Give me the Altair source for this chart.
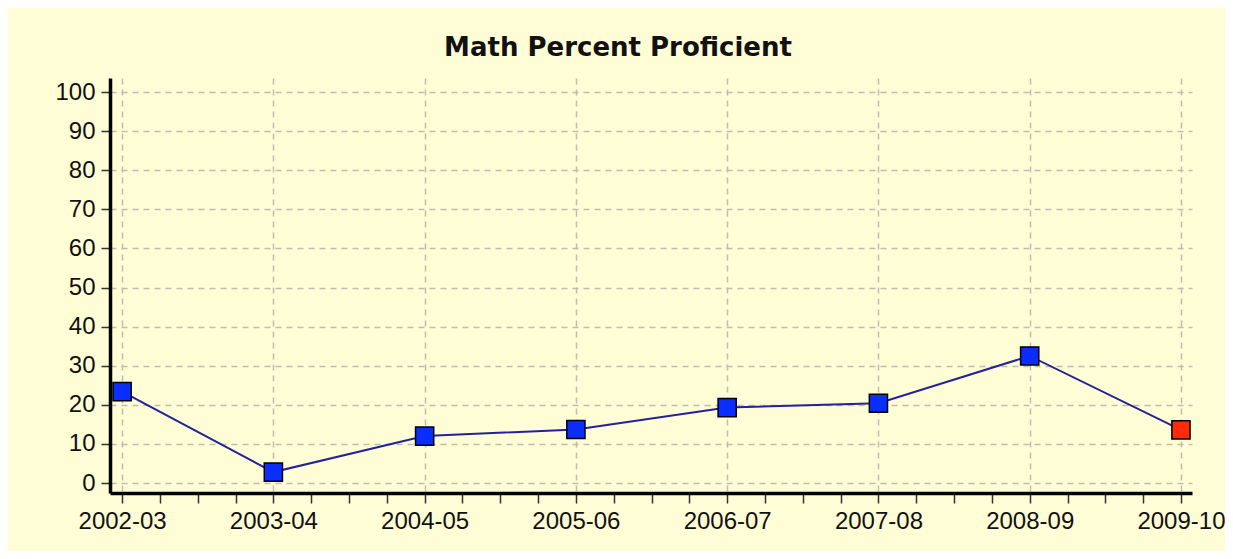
import altair as alt
import pandas as pd

seasons = ["2002-03", "2003-04", "2004-05", "2005-06", "2006-07", "2007-08", "2008-09", "2009-10"]
values = [23.4, 2.8, 12.0, 13.7, 19.3, 20.4, 32.5, 13.6]
status = ["past", "past", "past", "past", "past", "past", "past", "current"]

df = pd.DataFrame({"idx": list(range(len(seasons))), "season": seasons,
                   "value": values, "status": status})

label_arr = "[" + ",".join("'%s'" % s for s in seasons) + "]"
x_ticks = [i / 4 for i in range(4 * (len(seasons) - 1) + 1)]

FONT = "Liberation Sans"

x_enc = alt.X(
    "idx:Q",
    scale=alt.Scale(domain=[-0.08, 7.073], nice=False, zero=False),
    axis=alt.Axis(
        title=None,
        values=x_ticks,
        labelExpr="datum.value % 1 === 0 ? " + label_arr + "[datum.value] : ''",
        labelFont=FONT, labelFontSize=24, labelColor="#111111",
        labelPadding=6, labelFlush=False, labelOverlap=False,
        domainColor="#000000", domainWidth=3.5,
        tickColor="#333333", tickWidth=1.5, tickSize=10,
        grid=True, gridColor="#BEBEAE", gridWidth=1.5, gridDash=[6, 5],
        gridOpacity={"condition": {"test": "datum.value % 1 === 0", "value": 1}, "value": 0},
    ),
)
y_enc = alt.Y(
    "value:Q",
    scale=alt.Scale(domain=[-2.55, 103.6], nice=False, zero=False),
    axis=alt.Axis(
        title=None,
        values=list(range(0, 101, 10)),
        labelFont=FONT, labelFontSize=24, labelColor="#111111",
        labelPadding=6,
        domainColor="#000000", domainWidth=3.5,
        tickColor="#333333", tickWidth=1.5, tickSize=9,
        grid=True, gridColor="#BEBEAE", gridWidth=1.5, gridDash=[6, 5],
    ),
)

line = alt.Chart(df).mark_line(color="#22229A", strokeWidth=2).encode(x=x_enc, y=y_enc)
points = alt.Chart(df).mark_point(
    shape="square", filled=True, size=330, opacity=1,
    stroke="#000000", strokeWidth=1.5,
).encode(
    x=x_enc, y=y_enc,
    color=alt.Color("status:N",
                    scale=alt.Scale(domain=["past", "current"], range=["#0A2EFF", "#FF2A08"]),
                    legend=None),
)

chart = alt.layer(line, points).properties(
    width=1082, height=415,
    autosize=alt.AutoSizeParams(type="none"),
    padding={"left": 102, "top": 70, "right": 33, "bottom": 58},
    background="#FFFDD5",
    title=alt.TitleParams(
        "Math Percent Proficient",
        font="DejaVu Sans", fontSize=26, fontWeight="bold", color="#111111",
        anchor="middle", dx=-33, dy=25, offset=21, baseline="alphabetic",
    ),
).configure_view(stroke=None)

chart.save("out.html", embed_options={"renderer": "svg", "actions": False})
